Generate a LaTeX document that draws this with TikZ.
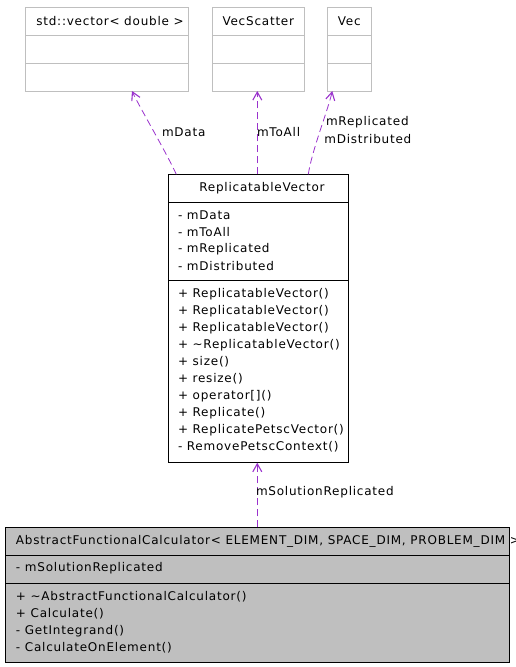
\documentclass[tikz,border=0pt]{standalone}
\usepackage{fontspec}
\setmainfont{DejaVu Sans}[LetterSpace=6.5]
\usetikzlibrary{arrows.meta,calc}
\definecolor{edgepurple}{HTML}{9A32CD}
\definecolor{lightbox}{HTML}{BFBFBF}
\tikzset{
  umlbox/.style={draw=lightbox,line width=0.8pt,anchor=north west,inner sep=0,outer sep=0},
  mainbox/.style={draw=black,line width=0.8pt,anchor=north west,inner sep=0,outer sep=0},
  txt/.style={anchor=west,inner sep=0,outer sep=0,font=\fontsize{12}{14}\selectfont},
  ctxt/.style={anchor=center,inner sep=0,outer sep=0,font=\fontsize{12}{14}\selectfont},
  edge/.style={draw=edgepurple,line width=0.8pt,dash pattern=on 7pt off 4pt,-{Straight Barb[length=8pt,width=9pt,line width=1.1pt]}},
}
\begin{document}
\begin{tikzpicture}[x=1pt,y=-1pt]
\useasboundingbox (0,0) rectangle (515,667);
% top boxes
\node[umlbox,minimum width=163pt,minimum height=84pt] (sv) at (25,7) {};
\draw[lightbox,line width=0.8pt] (25,35) -- (188,35) (25,63) -- (188,63);
\node[ctxt] (svt) at (110,21) {std::vector< double >};
\node[umlbox,minimum width=92pt,minimum height=84pt] (vs) at (212.3,7) {};
\draw[lightbox,line width=0.8pt] (212.3,35) -- (304.3,35) (212.3,63) -- (304.3,63);
\node[ctxt] (vst) at (258.3,21) {VecScatter};
\node[umlbox,minimum width=44pt,minimum height=84pt] (vec) at (327.3,7) {};
\draw[lightbox,line width=0.8pt] (327.3,35) -- (371.3,35) (327.3,63) -- (371.3,63);
\node[ctxt] (vect) at (349.3,21) {Vec};
% ReplicatableVector
\node[mainbox,minimum width=180pt,minimum height=288.4pt] (rv) at (168.3,174.3) {};
\draw[black,line width=0.8pt] (168.3,202.3) -- (348.3,202.3) (168.3,280.7) -- (348.3,280.7);
\node[ctxt] (rvt) at (262,188) {ReplicatableVector};
\node[txt] (ra1) at (178,215) {- mData};
\node[txt] (ra2) at (178,232) {- mToAll};
\node[txt] (ra3) at (178,249) {- mReplicated};
\node[txt] (ra4) at (178,266) {- mDistributed};
\node[txt] (rm1) at (178,294) {+ ReplicatableVector()};
\node[txt] (rm2) at (178,311) {+ ReplicatableVector()};
\node[txt] (rm3) at (178,328) {+ ReplicatableVector()};
\node[txt] (rm4) at (178,345) {+ \textasciitilde ReplicatableVector()};
\node[txt] (rm5) at (178,362) {+ size()};
\node[txt] (rm6) at (178,379) {+ resize()};
\node[txt] (rm7) at (178,396) {+ operator[]()};
\node[txt] (rm8) at (178,413) {+ Replicate()};
\node[txt] (rm9) at (178,430) {+ ReplicatePetscVector()};
\node[txt] (rm10) at (178,447) {- RemovePetscContext()};
% AbstractFunctionalCalculator
\node[mainbox,fill=lightbox,minimum width=504pt,minimum height=134.7pt] (afc) at (5.3,527.3) {};
\draw[black,line width=0.8pt] (5.3,555.7) -- (509.3,555.7) (5.3,583.3) -- (509.3,583.3);
\node[txt] (afct) at (16,541) {AbstractFunctionalCalculator< ELEMENT\_DIM, SPACE\_DIM, PROBLEM\_DIM >};
\node[txt] (aa1) at (16,568.5) {- mSolutionReplicated};
\node[txt] (am1) at (16,597) {+ \textasciitilde AbstractFunctionalCalculator()};
\node[txt] (am2) at (16,614) {+ Calculate()};
\node[txt] (am3) at (16,631) {- GetIntegrand()};
\node[txt] (am4) at (16,648) {- CalculateOnElement()};
% edges
\draw[edge] ($(rv.north west)+(8,0)$) .. controls (165,150) and (140,108) .. ($(sv.south west)+(107,0)$);
\draw[edge] ($(rv.north west)+(89,0)$) -- ($(vs.south west)+(45,0)$);
\draw[edge] ($(rv.north west)+(140,0)$) .. controls (312,150) and (328,110) .. ($(vec.south west)+(5,0)$);
\draw[edge] ($(afc.north west)+(252,0)$) -- ($(rv.south west)+(89,0)$);
% edge labels
\node[txt] (l1) at (162,132) {mData};
\node[txt] (l2) at (257,132) {mToAll};
\node[txt] (l3) at (326,122.5) {mReplicated};
\node[txt] (l4) at (324.3,139.3) {mDistributed};
\node[txt] (l5) at (256,492.5) {mSolutionReplicated};
\end{tikzpicture}
\end{document}
